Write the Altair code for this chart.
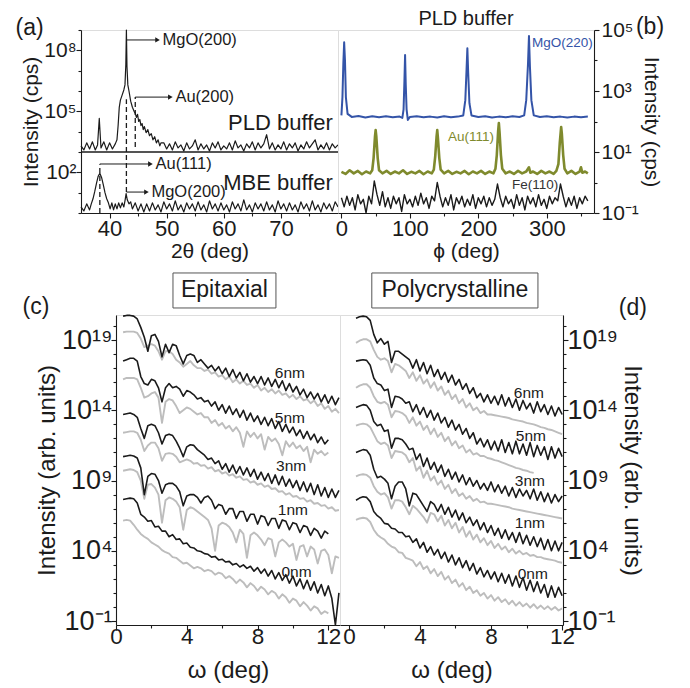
import altair as alt
import pandas as pd

FONT = "Liberation Sans"
INK = "#1b1b1b"
GRAY = "#bdbdbd"
BLUE = "#3454a8"
OLIVE = "#7f8a2d"

# ================= (a) 2-theta scans (log10 intensity) =================
pld_peak = [(35.0, 3.3), (35.5, 3.1), (36.0, 3.45), (36.5, 3.15), (37.0, 3.5), (37.5, 3.1),
            (37.9, 3.35), (38.2, 4.65), (38.5, 3.2), (39.0, 3.5), (39.5, 3.1), (40.0, 3.45),
            (40.5, 3.15), (41.0, 3.4), (41.3, 3.6), (41.5, 4.3), (41.7, 5.2), (41.9, 5.55),
            (42.2, 5.8), (42.5, 6.05), (42.7, 6.3), (42.85, 7.3), (42.95, 9.0), (43.05, 7.2),
            (43.2, 6.3), (43.4, 6.0), (43.7, 5.5), (44.0, 5.2), (44.3, 5.0), (44.5, 4.9),
            (44.7, 4.7), (44.9, 4.85), (45.1, 4.5), (45.3, 4.6), (45.5, 4.3), (45.7, 4.4),
            (45.9, 4.1), (46.1, 4.25), (46.4, 3.95), (46.7, 4.1), (47.0, 3.8), (47.3, 3.9),
            (47.6, 3.6), (47.9, 3.75), (48.2, 3.45), (48.5, 3.6), (48.8, 3.3), (49.0, 3.45)]
pld_noise_start = 49.5
pld_noise = [3.45, 3.15, 3.4, 3.1, 3.5, 3.2, 3.35, 3.05, 3.45, 3.15,
             3.3, 3.6, 3.1, 3.4, 3.15, 3.35, 3.05, 3.45, 3.2, 3.5,
             3.1, 3.3, 3.15, 3.45, 3.1, 3.55, 3.2, 3.35, 3.05, 3.4,
             3.2, 3.5, 3.1, 3.45, 3.2, 3.4, 3.85, 3.15, 3.45, 3.1,
             3.35, 3.15, 3.5, 3.1, 3.4, 3.2, 3.45, 3.05, 3.35, 3.15,
             3.5, 3.2, 3.4, 3.6, 3.1, 3.35, 3.15, 3.45, 3.1, 3.4,
             3.2, 3.35]
mbe_peak = [(35.0, 0.3), (35.5, 0.1), (36.0, 0.45), (36.5, 0.15), (36.8, 0.45), (37.1, 0.7),
            (37.4, 1.05), (37.7, 1.45), (38.0, 1.8), (38.3, 1.95), (38.6, 1.75), (38.9, 1.4),
            (39.2, 1.0), (39.5, 0.7), (39.8, 0.5), (40.1, 0.2), (40.4, 0.5), (40.7, 0.15),
            (41.0, 0.45), (41.3, 0.2), (41.6, 0.5), (41.9, 0.25), (42.2, 0.5), (42.5, 0.3),
            (42.7, 0.6), (42.9, 0.95), (43.1, 0.65), (43.4, 0.45), (43.7, 0.55), (44.0, 0.2),
            (44.5, 0.5), (45.0, 0.1), (45.5, 0.45)]
mbe_noise_start = 46.0
mbe_noise = [0.05, 0.45, 0.1, 0.5, 0.15, 0.4, 0.05, 0.55, 0.2, 0.45,
             0.1, 0.6, 0.15, 0.4, 0.05, 0.5, 0.2, 0.45, 0.1, 0.55,
             0.15, 0.4, 0.05, 0.6, 0.2, 0.45, 0.1, 0.5, 0.15, 0.4,
             0.05, 0.55, 0.2, 0.45, 0.1, 0.65, 0.15, 0.4, 0.05, 0.5,
             0.2, 0.45, 0.1, 0.55, 0.15, 0.4, 0.05, 0.6, 0.2, 0.45,
             0.1, 0.5, 0.15, 0.4, 0.05, 0.55, 0.2, 0.45, 0.1, 0.6,
             0.15, 0.4, 0.05, 0.5, 0.2, 0.45, 0.1, 0.55, 0.3]
# dense noise floor (segment, 2theta, lower, upper)
a_noise_band = [("p1", 35.0, 3.12, 3.42), ("p1", 41.2, 3.12, 3.42),
                ("p2", 48.8, 3.12, 3.42), ("p2", 80.0, 3.12, 3.42),
                ("m1", 35.0, 0.08, 0.38), ("m1", 36.6, 0.08, 0.38),
                ("m2", 39.9, 0.15, 0.45), ("m2", 42.5, 0.15, 0.45),
                ("m3", 43.6, 0.08, 0.42), ("m3", 80.0, 0.08, 0.42)]
a_dashes = [(38.3, 0.0, 2.4), (42.95, 1.03, 5.6), (44.5, 3.25, 5.7)]
a_arrows = [(42.97, 48.4, 8.51, "MgO(200)"), (44.5, 50.65, 5.7, "Au(200)"),
            (38.3, 47.16, 2.41, "Au(111)"), (42.97, 46.46, 1.03, "MgO(200)")]
a_separator = [3.0]
a_texts = [("PLD buffer", 79.1, 4.43), ("MBE buffer", 79.1, 1.47)]
a_panel = [("(a)", 26.0, 9.1)]

# ================= (b) phi scans (log10 intensity) =================
b_mgo = [(0, 2.2), (1.5, 2.8), (2.8, 3.9), (4, 4.6), (5.2, 4.0), (6.5, 2.8), (9, 2.25), (15, 2.15),
         (25, 2.18), (35, 2.13), (45, 2.17), (55, 2.14), (65, 2.17), (75, 2.14), (85, 2.16),
         (89, 2.12), (90.8, 2.4), (92, 3.3), (93, 4.18), (94, 3.2), (95.2, 2.4), (97, 2.05),
         (100, 2.15), (110, 2.17), (120, 2.14), (130, 2.16), (140, 2.13), (150, 2.17), (160, 2.14),
         (170, 2.16), (178, 2.2), (181, 2.7), (182.8, 3.7), (184, 4.4), (185.2, 3.6), (187, 2.6),
         (190, 2.2), (200, 2.15), (210, 2.17), (220, 2.13), (230, 2.16), (240, 2.14), (250, 2.17),
         (260, 2.15), (267, 2.2), (270, 2.7), (272.6, 3.9), (274, 4.8), (275.4, 3.8), (277.5, 2.7),
         (281, 2.2), (290, 2.15), (300, 2.17), (310, 2.14), (320, 2.16), (330, 2.13), (340, 2.16),
         (350, 2.14), (360, 2.16)]
b_au = [(0, 0.35), (6, 0.28), (12, 0.4), (18, 0.3), (24, 0.38), (30, 0.27), (36, 0.36), (42, 0.3),
        (45, 0.4), (47, 0.8), (49, 1.5), (50, 1.72), (51, 1.5), (53, 0.8), (55, 0.4), (60, 0.3),
        (66, 0.38), (72, 0.28), (78, 0.36), (84, 0.3), (90, 0.4), (96, 0.28), (102, 0.35), (108, 0.3),
        (114, 0.38), (120, 0.27), (126, 0.36), (132, 0.3), (135, 0.42), (137, 0.85), (139, 1.5),
        (140, 1.72), (141, 1.45), (143, 0.8), (145, 0.42), (150, 0.3), (156, 0.38), (162, 0.28),
        (168, 0.35), (174, 0.3), (180, 0.38), (186, 0.27), (192, 0.36), (198, 0.3), (204, 0.38),
        (210, 0.28), (216, 0.36), (222, 0.3), (225, 0.45), (227, 0.9), (229, 1.7), (230, 1.95),
        (231, 1.65), (233, 0.9), (235, 0.45), (240, 0.3), (246, 0.36), (252, 0.28), (258, 0.38),
        (264, 0.3), (270, 0.36), (274, 0.5), (276, 0.32), (280, 0.36), (286, 0.28), (292, 0.38),
        (298, 0.3), (304, 0.36), (310, 0.28), (314, 0.38), (317, 0.6), (319, 1.3), (321, 1.82),
        (322, 1.6), (324, 0.9), (326, 0.45), (330, 0.3), (336, 0.38), (342, 0.28), (348, 0.36),
        (350, 0.5), (352, 0.32), (356, 0.36), (360, 0.3)]
b_fe_step = 4
b_fe = [-0.5, -0.8, -0.45, -0.75, -0.5, -0.9, -0.4, -0.7, -0.55, -1.0,
        -0.45, -0.7, 0.05, -0.4, -0.75, -0.3, -0.8, -0.5, -0.85, -0.45,
        -0.7, -0.5, -0.95, -0.4, -0.7, -0.55, -0.8, -0.45, -0.75, -0.35,
        -0.7, -0.5, -0.85, -0.45, -0.6, 0.0, -0.45, -0.8, -0.5, -0.75,
        -0.4, -0.9, -0.5, -0.7, -0.45, -0.8, -0.55, -0.75, -0.4, -0.85,
        -0.5, -0.7, -0.45, -0.8, -0.5, -0.75, -0.55, -0.05, -0.5, -0.8,
        -0.45, -0.7, -0.55, -0.85, -0.4, -0.75, -0.5, -0.9, -0.45, -0.7,
        -0.5, -0.8, -0.4, -0.75, -0.55, -0.85, -0.45, -0.7, -0.5, -0.6,
        -0.05, -0.45, -0.8, -0.5, -0.75, -0.45, -0.85, -0.5, -0.7, -0.45,
        -0.6]
b_fe_band = [("f", 0, -0.82, -0.45), ("f", 360, -0.82, -0.45)]
b_texts = [("MgO(220)", 278.5, 4.57, BLUE), ("Au(111)", 155.7, 1.49, OLIVE), ("Fe(110)", 249.2, -0.08, "#333333")]
b_panel = [("(b)", 450.8, 5.1)]
b_heading = [("PLD buffer", 182.0, 5.16)]

# ================= (c),(d) reflectivity (log10 intensity), omega = 0.4 + 0.2*i =================
OMEGA0, OMEGA_STEP = 0.4, 0.2
epi_data = {
    "6nm": [20.7, 20.75, 20.75, 20.7, 20.5, 19.9, 19.2, 18.2, 19.3, 19.4,
            18.9, 17.8, 18.7, 18.1, 18.7, 18.6, 17.9, 17.3, 17.9, 18.0,
            17.9, 17.4, 17.6, 17.3, 17.0, 17.2, 16.8, 17.1, 16.6, 17.0,
            16.4, 16.9, 16.3, 16.7, 16.1, 16.6, 16.0, 16.4, 15.9, 16.4,
            15.8, 16.3, 15.7, 16.2, 15.6, 16.1, 15.4, 15.9, 15.3, 15.7,
            15.1, 15.5, 14.9, 15.3, 14.8, 15.2, 14.6, 15.1, 14.5, 15.0,
            14.4, 14.9],
    "5nm": [17.5, 17.6, 17.7, 17.7, 17.5, 16.4, 15.9, 15.8, 16.2, 16.1,
            15.6, 14.6, 15.6, 15.9, 15.6, 15.7, 15.5, 15.0, 15.4, 15.3,
            15.1, 14.8, 14.9, 14.6, 14.7, 14.3, 14.6, 14.0, 14.4, 13.8,
            14.3, 13.7, 14.1, 13.5, 14.0, 13.3, 13.8, 13.2, 13.6, 13.0,
            13.5, 12.9, 13.4, 12.7, 13.2, 12.5, 13.0, 12.4, 12.8, 12.2,
            12.6, 12.0, 12.5, 11.9, 12.3, 11.7, 12.1, 11.6, 11.9],
    "3nm": [13.7, 13.75, 13.8, 13.7, 13.5, 12.7, 12.0, 12.9, 13.0, 12.9,
            12.4, 11.6, 12.2, 12.3, 12.2, 11.8, 11.3, 10.7, 11.4, 11.55,
            11.5, 11.2, 11.0, 10.8, 10.5, 10.6, 10.2, 10.4, 9.8, 10.2,
            9.6, 10.1, 9.5, 10.0, 9.4, 9.9, 9.3, 9.8, 9.1, 9.6,
            9.0, 9.5, 8.8, 9.4, 8.7, 9.3, 8.6, 9.1, 8.5, 9.0,
            8.3, 8.9, 8.2, 8.8, 8.0, 8.7, 7.9, 8.5, 7.8, 8.4,
            7.8, 8.3],
    "1nm": [10.7, 10.75, 10.8, 10.75, 10.6, 9.9, 8.0, 9.3, 9.5, 9.45,
            9.0, 8.1, 8.7, 8.8, 8.8, 8.6, 8.2, 7.2, 7.9, 8.0,
            8.0, 7.8, 7.4, 7.8, 7.9, 7.6, 7.0, 7.3, 7.2, 6.6,
            7.0, 7.0, 6.3, 6.8, 6.8, 6.1, 6.6, 6.6, 5.9, 6.5,
            6.4, 5.8, 6.3, 6.3, 5.6, 6.2, 6.1, 5.5, 6.0, 5.9,
            5.3, 5.8, 5.7, 5.1, 5.6, 5.4, 4.9, 5.4, 5.2],
    "0nm": [7.65, 7.7, 7.75, 7.7, 7.4, 6.6, 6.4, 6.1, 6.15, 5.7,
            5.75, 5.4, 5.4, 5.0, 5.15, 4.8, 4.85, 4.5, 4.55, 4.25,
            4.2, 4.0, 3.95, 3.8, 3.75, 3.55, 3.6, 3.35, 3.4, 3.2,
            3.25, 3.0, 3.1, 2.85, 3.0, 2.75, 2.9, 2.55, 2.8, 2.4,
            2.7, 2.2, 2.6, 2.0, 2.45, 1.9, 2.3, 1.7, 2.2, 1.5,
            2.0, 1.3, 1.9, 1.2, 1.8, 1.0, 1.6, 0.8, 1.5, 0.6,
            -1.28, 1.0],
}
epi_fit = {
    "6nm": [19.55, 19.6, 19.6, 19.6, 19.5, 19.1, 18.5, 18.6, 18.7, 18.6,
            18.2, 17.6, 18.2, 18.2, 18.0, 17.6, 17.4, 17.1, 17.3, 17.5,
            17.2, 17.0, 17.0, 16.8, 16.9, 16.6, 16.7, 16.4, 16.5, 16.2,
            16.4, 16.0, 16.2, 15.9, 16.1, 15.8, 15.9, 15.6, 15.8, 15.4,
            15.6, 15.3, 15.5, 15.2, 15.4, 15.1, 15.2, 14.9, 15.1, 14.8,
            15.0, 14.7, 14.8, 14.5, 14.7, 14.3, 14.5, 14.1, 14.3, 13.9,
            14.1, 13.8],
    "5nm": [16.2, 16.3, 16.3, 16.3, 16.2, 15.6, 14.9, 15.0, 15.2, 15.3,
            14.9, 13.1, 14.6, 14.8, 14.7, 14.3, 13.8, 14.0, 14.2, 14.1,
            13.9, 13.7, 13.8, 13.5, 13.5, 13.1, 13.3, 12.9, 13.1, 12.7,
            12.9, 12.5, 12.8, 12.4, 11.4, 12.5, 12.1, 12.4, 12.0, 12.3,
            11.2, 12.1, 11.8, 12.0, 11.6, 10.8, 11.8, 11.4, 11.7, 11.3,
            11.5, 11.1, 11.4, 10.3, 11.2, 10.9, 11.1, 10.8, 11.0],
    "3nm": [12.4, 12.45, 12.5, 12.5, 12.4, 11.9, 11.1, 11.5, 11.7, 11.7,
            11.3, 10.4, 10.9, 10.95, 10.9, 10.7, 10.3, 10.4, 10.5, 10.4,
            10.2, 10.25, 10.05, 10.1, 9.85, 9.95, 9.65, 9.75, 9.5, 9.6,
            9.35, 9.45, 9.2, 9.3, 9.05, 9.1, 8.85, 8.95, 8.7, 8.8,
            8.55, 8.65, 8.4, 8.45, 8.2, 8.25, 8.0, 8.1, 7.85, 7.9,
            7.7, 7.75, 7.5, 7.6, 7.35, 7.4, 7.2, 7.25, 7.0, 7.1,
            6.85, 6.9],
    "1nm": [9.7, 9.75, 9.8, 9.75, 9.6, 9.0, 7.7, 8.7, 8.75, 8.5,
            8.0, 6.0, 7.6, 7.8, 7.7, 7.5, 7.1, 5.5, 6.9, 7.1,
            7.0, 6.8, 6.6, 6.4, 6.2, 5.6, 4.0, 5.8, 6.0, 5.9,
            5.7, 5.3, 4.6, 5.5, 5.2, 3.5, 5.1, 5.3, 5.1, 4.8,
            4.4, 4.9, 4.8, 3.6, 4.6, 4.8, 4.6, 4.3, 4.5, 3.35,
            4.3, 4.4, 3.6, 4.3, 4.1, 3.1, 4.0, 4.1, 3.7, 2.4,
            3.6, 3.5],
    "0nm": [6.15, 6.2, 6.15, 5.85, 5.5, 5.2, 5.0, 4.85, 4.6, 4.45,
            4.3, 4.05, 3.9, 3.8, 3.55, 3.5, 3.3, 3.1, 3.15, 2.95,
            2.75, 2.85, 2.75, 2.55, 2.65, 2.55, 2.3, 2.45, 2.35, 2.05,
            2.2, 2.0, 1.7, 1.95, 1.75, 1.4, 1.7, 1.5, 1.15, 1.45,
            1.25, 0.9, 1.15, 1.0, 0.6, 0.9, 0.7, 0.3, 0.6, 0.45,
            0.05, 0.35, 0.1, -0.25, 0.05, -0.1, -0.5, -0.3, -0.45],
}
poly_data = {
    "6nm": [20.55, 20.65, 20.7, 20.65, 20.4, 19.4, 18.8, 19.1, 18.7, 18.9,
            17.4, 18.2, 18.2, 18.0, 17.8, 17.6, 17.0, 17.6, 16.8, 17.4,
            16.6, 17.2, 16.4, 16.9, 16.2, 16.7, 16.0, 16.5, 15.8, 16.2,
            15.5, 15.9, 15.2, 15.6, 14.9, 15.2, 14.6, 15.1, 14.5, 15.0,
            14.4, 15.1, 14.3, 14.9, 14.2, 14.8, 14.0, 14.7, 14.1, 14.5,
            13.8, 14.6, 13.9, 14.4, 13.7, 14.3, 13.6, 14.2, 13.7],
    "5nm": [17.5, 17.55, 17.6, 17.55, 17.2, 16.3, 15.9, 15.8, 15.4, 15.5,
            14.2, 15.0, 14.95, 14.8, 14.5, 14.6, 13.9, 14.4, 13.7, 14.2,
            13.5, 14.0, 13.3, 13.8, 13.1, 13.5, 12.8, 13.3, 12.6, 13.0,
            12.3, 12.7, 12.0, 12.4, 11.6, 12.0, 11.4, 11.9, 11.2, 11.8,
            11.1, 11.9, 11.0, 11.7, 10.9, 11.8, 10.9, 11.6, 10.8, 11.7,
            10.7, 11.5, 10.8, 11.4, 10.5, 11.4, 10.6, 11.3, 10.7],
    "3nm": [14.2, 14.3, 14.4, 14.35, 14.0, 13.2, 12.9, 13.0, 12.5, 12.6,
            11.3, 12.0, 12.0, 11.9, 11.6, 11.2, 11.3, 10.5, 10.9, 10.0,
            10.6, 9.8, 10.3, 9.6, 10.1, 9.3, 9.8, 9.1, 9.6, 8.9,
            9.4, 8.7, 9.2, 8.6, 9.0, 8.4, 8.8, 8.3, 8.9, 8.2,
            8.7, 8.1, 8.6, 7.9, 8.5, 7.8, 8.4, 7.9, 8.3, 7.7,
            8.4, 7.6, 8.2, 7.5, 8.1, 7.4, 8.0, 7.5, 7.9],
    "1nm": [11.0, 11.1, 11.2, 11.15, 10.8, 9.8, 9.2, 9.3, 9.1, 8.8,
            7.7, 8.6, 8.9, 8.9, 8.4, 7.2, 8.1, 8.0, 7.6, 7.2,
            6.8, 7.5, 7.3, 6.8, 7.3, 6.6, 7.1, 6.4, 6.9, 6.2,
            6.7, 6.0, 6.4, 5.8, 6.2, 5.5, 6.0, 5.3, 5.8, 5.1,
            5.6, 4.9, 5.5, 4.8, 5.3, 4.6, 5.3, 4.5, 5.1, 4.4,
            5.0, 4.3, 4.9, 4.1, 4.8, 4.0, 4.7, 4.0, 4.6],
    "0nm": [7.6, 7.75, 7.85, 7.8, 7.5, 6.8, 6.5, 6.3, 5.95, 5.9,
            5.6, 5.55, 5.3, 5.3, 5.0, 5.05, 4.6, 4.85, 4.2, 4.6,
            3.9, 4.3, 3.7, 4.1, 3.45, 3.9, 3.2, 3.7, 3.0, 3.5,
            2.8, 3.3, 2.6, 3.1, 2.35, 2.8, 2.15, 2.6, 2.0, 2.5,
            1.8, 2.4, 1.7, 2.3, 1.5, 2.2, 1.4, 2.1, 1.2, 1.9,
            1.1, 1.8, 1.0, 1.6, 0.7, 1.5, 0.7, 1.4, 0.8],
}
poly_fit = {
    "6nm": [18.8, 18.95, 19.05, 19.05, 18.9, 18.3, 17.8, 17.6, 17.7, 17.5,
            16.7, 17.3, 17.2, 17.0, 16.8, 16.3, 16.7, 16.1, 16.5, 15.9,
            16.2, 15.6, 16.0, 15.4, 15.7, 15.1, 15.4, 14.8, 15.1, 14.5,
            14.8, 14.2, 14.5, 14.0, 14.2, 13.8, 13.95, 13.7, 13.7, 13.65,
            13.6, 13.55, 13.5, 13.45, 13.35, 13.3, 13.25, 13.2, 13.1, 13.05,
            13.0, 12.9, 12.8, 12.75, 12.65, 12.6, 12.5, 12.4, 12.3],
    "5nm": [15.6, 15.75, 15.85, 15.85, 15.6, 15.0, 14.6, 14.5, 14.6, 14.4,
            13.5, 13.95, 13.9, 13.8, 13.6, 13.1, 13.5, 12.9, 13.2, 12.6,
            12.9, 12.3, 12.7, 12.1, 12.4, 11.8, 12.1, 11.5, 11.8, 11.3,
            11.5, 11.0, 11.2, 10.85, 10.95, 10.75, 10.75, 10.6, 10.55, 10.45,
            10.4, 10.3, 10.2, 10.1, 10.0, 9.9, 9.85, 9.75, 9.7, 9.6,
            9.55],
    "3nm": [12.9, 13.0, 13.05, 13.0, 12.8, 12.3, 11.8, 11.6, 11.7, 11.5,
            10.6, 11.1, 11.05, 11.0, 10.8, 10.3, 10.6, 9.7, 10.0, 9.2,
            9.7, 9.0, 9.3, 8.7, 9.0, 8.4, 8.7, 8.1, 8.4, 7.9,
            8.1, 7.7, 7.9, 7.55, 7.7, 7.45, 7.5, 7.35, 7.35, 7.3,
            7.25, 7.2, 7.15, 7.1, 7.0, 6.95, 6.9, 6.85, 6.8, 6.75,
            6.7, 6.65, 6.6, 6.55, 6.5, 6.45, 6.4, 6.35, 6.3],
    "1nm": [9.3, 9.4, 9.45, 9.4, 9.2, 8.6, 8.2, 8.0, 8.1, 7.8,
            7.0, 7.6, 7.6, 7.5, 7.1, 6.6, 7.2, 7.0, 6.7, 6.4,
            6.0, 6.7, 6.6, 6.1, 6.5, 5.8, 6.2, 5.6, 6.0, 5.3,
            5.7, 5.0, 5.4, 4.8, 5.15, 4.6, 4.9, 4.4, 4.7, 4.2,
            4.5, 4.1, 4.3, 3.9, 4.15, 3.8, 4.0, 3.75, 3.85, 3.65,
            3.7, 3.55, 3.55, 3.45, 3.4, 3.35, 3.3, 3.2, 3.15],
    "0nm": [6.2, 6.3, 6.35, 6.3, 6.05, 5.5, 5.15, 4.95, 4.8, 4.5,
            4.3, 4.2, 3.9, 3.85, 3.5, 3.4, 3.3, 2.9, 3.2, 2.7,
            2.9, 2.4, 2.7, 2.2, 2.5, 1.95, 2.2, 1.7, 1.95, 1.45,
            1.7, 1.2, 1.45, 1.0, 1.2, 0.8, 1.0, 0.6, 0.85, 0.45,
            0.7, 0.35, 0.55, 0.2, 0.45, 0.1, 0.35, 0.05, 0.25, -0.05,
            0.2, -0.1, 0.1, -0.15, 0.05, -0.2, 0.0, -0.25, -0.1],
}
epi_labels = [("6nm", 9.83, 16.65), ("5nm", 9.83, 13.45), ("3nm", 9.9, 10.0), ("1nm", 10.0, 6.9), ("0nm", 10.2, 2.5)]
poly_labels = [("6nm", 10.13, 15.2), ("5nm", 10.24, 12.2), ("3nm", 10.19, 8.96), ("1nm", 10.19, 6.0), ("0nm", 10.35, 2.35)]
epi_box = ("Epitaxial", 3.22, 9.04, 21.28, 23.77)
poly_box = ("Polycrystalline", 1.29, 10.64, 21.28, 23.77)
epi_panel = [("(c)", -4.52, 21.35)]
poly_panel = [("(d)", 15.98, 21.28)]

# ================= helpers =================
SUP = {"-": "\u207b", "0": "\u2070", "1": "\u00b9", "2": "\u00b2", "3": "\u00b3", "4": "\u2074",
       "5": "\u2075", "6": "\u2076", "7": "\u2077", "8": "\u2078", "9": "\u2079"}


def pow10(e):
    return "10" + "".join(SUP[c] for c in str(e))


def pow_expr(majors):
    s = "''"
    for e in reversed(majors):
        s = f"datum.value == {e} ? '{pow10(e)}' : " + s
    return s


def num_expr(majors):
    return f"indexof({list(majors)}, datum.value) >= 0 ? datum.label : ''"


def tick_cond(majors, big, small):
    return {"condition": {"test": f"indexof({list(majors)}, datum.value) >= 0", "value": big}, "value": small}


AX = dict(labelFont=FONT, titleFont=FONT, labelColor=INK, titleColor=INK, domainColor=INK,
          tickColor=INK, titleFontWeight="normal", grid=False, labelOverlap=False,
          labelFlush=False, domainWidth=1.1, tickWidth=1.1)


def pts_df(points):
    return pd.DataFrame(points, columns=["x", "y"])


def grid_df(start, step, vals):
    return pd.DataFrame({"x": [round(start + step * i, 3) for i in range(len(vals))], "y": vals})


def band_df(items):
    return pd.DataFrame(items, columns=["seg", "x", "y", "y2"])


def curves_df(curves):
    rows = []
    for name, vals in curves.items():
        for i, v in enumerate(vals):
            rows.append({"x": round(OMEGA0 + OMEGA_STEP * i, 2), "y": v, "curve": name})
    return pd.DataFrame(rows)


def text_df(items):
    return pd.DataFrame(items, columns=["t", "x", "y"])


class Enc:
    """x / y encodings that share one scale and one axis definition in every layer."""

    def __init__(self, sx, axx, sy, axy):
        self.sx, self.axx, self.sy, self.axy = sx, axx, sy, axy

    def x(self, f="x"):
        return alt.X(f"{f}:Q", scale=self.sx, axis=self.axx)

    def y(self, f="y"):
        return alt.Y(f"{f}:Q", scale=self.sy, axis=self.axy)


# ================= panel (a) =================
EA = Enc(alt.Scale(domain=[35, 80], nice=False, zero=False),
         alt.Axis(values=[40, 45, 50, 55, 60, 65, 70, 75], labelExpr=num_expr([40, 50, 60, 70]),
                  tickSize=tick_cond([40, 50, 60, 70], 5, 3), title="2θ (deg)", labelFontSize=22,
                  titleFontSize=21, labelPadding=0, titlePadding=1, **AX),
         alt.Scale(domain=[0, 9], nice=False, zero=False),
         alt.Axis(values=list(range(0, 10)), labelExpr=pow_expr([2, 5, 8]),
                  tickSize=tick_cond([2, 5, 8], 5, 3), title="Intensity (cps)", labelFontSize=21,
                  titleFontSize=21, labelPadding=0, titlePadding=2, **AX))

pld_df = pd.concat([pts_df(pld_peak), grid_df(pld_noise_start, 0.5, pld_noise)], ignore_index=True)
mbe_df = pd.concat([pts_df(mbe_peak), grid_df(mbe_noise_start, 0.5, mbe_noise)], ignore_index=True)
dash_df = pd.DataFrame(a_dashes, columns=["x", "y", "y2"])
arrow_df = pd.DataFrame(a_arrows, columns=["x", "x2", "y", "t"])

a_layers = [
    alt.Chart(band_df(a_noise_band)).mark_area(color=INK, opacity=0.55).encode(
        x=EA.x(), y=EA.y(), y2="y2:Q", detail="seg:N", order="x:Q"),
    alt.Chart(pld_df).mark_line(color=INK, strokeWidth=1.2, strokeJoin="round").encode(x=EA.x(), y=EA.y(), order="x:Q"),
    alt.Chart(mbe_df).mark_line(color=INK, strokeWidth=1.2, strokeJoin="round").encode(x=EA.x(), y=EA.y(), order="x:Q"),
    alt.Chart(pd.DataFrame({"y": a_separator})).mark_rule(color=INK, strokeWidth=1.3).encode(y=EA.y()),
    alt.Chart(dash_df).mark_rule(color=INK, strokeWidth=1.3, strokeDash=[5, 3]).encode(x=EA.x(), y=EA.y(), y2="y2:Q"),
    alt.Chart(arrow_df).mark_rule(color=INK, strokeWidth=1).encode(x=EA.x(), x2="x2:Q", y=EA.y()),
    alt.Chart(arrow_df).mark_point(shape="triangle-right", filled=True, size=28, color=INK, opacity=1).encode(
        x=EA.x("x2"), y=EA.y()),
    alt.Chart(arrow_df).mark_text(align="left", baseline="middle", dx=5, font=FONT, fontSize=16.5, color=INK).encode(
        x=EA.x("x2"), y=EA.y(), text="t:N"),
    alt.Chart(text_df(a_texts)).mark_text(align="right", baseline="middle", font=FONT, fontSize=22, color=INK).encode(
        x=EA.x(), y=EA.y(), text="t:N"),
    alt.Chart(text_df(a_panel)).mark_text(align="center", baseline="middle", font=FONT, fontSize=23, color=INK).encode(
        x=EA.x(), y=EA.y(), text="t:N"),
]
panel_a = alt.layer(*a_layers).properties(width=257, height=183)

# ================= panel (b) =================
EB = Enc(alt.Scale(domain=[-5, 369], nice=False, zero=False),
         alt.Axis(values=[0, 50, 100, 150, 200, 250, 300, 350], labelExpr=num_expr([0, 100, 200, 300]),
                  tickSize=tick_cond([0, 100, 200, 300], 5, 3), title="ϕ (deg)", labelFontSize=22,
                  titleFontSize=21, labelPadding=0, titlePadding=1, **AX),
         alt.Scale(domain=[-1, 5], nice=False, zero=False),
         alt.Axis(orient="right", values=list(range(-1, 6)), labelExpr=pow_expr([-1, 1, 3, 5]),
                  tickSize=tick_cond([-1, 1, 3, 5], 5, 3), title="Intensity (cps)", labelFontSize=21,
                  titleFontSize=21, labelPadding=2, titlePadding=2, **AX))

b_text_df = pd.DataFrame(b_texts, columns=["t", "x", "y", "c"])
b_layers = [
    alt.Chart(band_df(b_fe_band)).mark_area(color=INK, opacity=0.55).encode(
        x=EB.x(), y=EB.y(), y2="y2:Q", detail="seg:N", order="x:Q"),
    alt.Chart(grid_df(0, b_fe_step, b_fe)).mark_line(color=INK, strokeWidth=1.4, strokeJoin="round").encode(
        x=EB.x(), y=EB.y(), order="x:Q"),
    alt.Chart(pts_df(b_au)).mark_line(color=OLIVE, strokeWidth=2.6, strokeJoin="round").encode(x=EB.x(), y=EB.y(), order="x:Q"),
    alt.Chart(pts_df(b_mgo)).mark_line(color=BLUE, strokeWidth=2.0, strokeJoin="round").encode(x=EB.x(), y=EB.y(), order="x:Q"),
    alt.Chart(b_text_df).mark_text(align="left", baseline="middle", font=FONT, fontSize=13.5).encode(
        x=EB.x(), y=EB.y(), text="t:N", color=alt.Color("c:N", scale=None)),
    alt.Chart(text_df(b_panel)).mark_text(align="center", baseline="middle", font=FONT, fontSize=23, color=INK).encode(
        x=EB.x(), y=EB.y(), text="t:N"),
    alt.Chart(text_df(b_heading)).mark_text(align="center", baseline="alphabetic", font=FONT, fontSize=20, color=INK).encode(
        x=EB.x(), y=EB.y(), text="t:N"),
]
panel_b = alt.layer(*b_layers).properties(width=256, height=183)


# ================= panels (c), (d) =================
def refl_panel(data, fit, labels, box, panel, xdom, width, orient):
    E = Enc(alt.Scale(domain=xdom, nice=False, zero=False),
            alt.Axis(values=[0, 2, 4, 6, 8, 10, 12], labelExpr=num_expr([0, 4, 8, 12]),
                     tickSize=tick_cond([0, 4, 8, 12], 5, 3), title="ω (deg)", labelFontSize=22.5,
                     titleFontSize=24, labelPadding=-5, titlePadding=11, **AX),
            alt.Scale(domain=[-1.28, 20.78], nice=False, zero=False),
            alt.Axis(orient=orient, values=list(range(-1, 21)), labelExpr=pow_expr([-1, 4, 9, 14, 19]),
                     tickSize=tick_cond([-1, 4, 9, 14, 19], 5, 3), title="Intensity (arb. units)",
                     labelFontSize=27, titleFontSize=24, labelPadding=-1, titlePadding=2, **AX))
    bdf = pd.DataFrame([box], columns=["t", "x", "x2", "y", "y2"])
    bdf["xm"] = (bdf["x"] + bdf["x2"]) / 2
    bdf["ym"] = (bdf["y"] + bdf["y2"]) / 2
    layers = [
        alt.Chart(curves_df(fit)).mark_line(color=GRAY, strokeWidth=1.9, strokeJoin="round").encode(
            x=E.x(), y=E.y(), detail="curve:N", order="x:Q"),
        alt.Chart(curves_df(data)).mark_line(color=INK, strokeWidth=1.6, strokeJoin="round").encode(
            x=E.x(), y=E.y(), detail="curve:N", order="x:Q"),
        alt.Chart(text_df(labels)).mark_text(align="center", baseline="middle", font=FONT, fontSize=15.5, color=INK).encode(
            x=E.x(), y=E.y(), text="t:N"),
        alt.Chart(bdf).mark_rect(fill="white", stroke="#555555", strokeWidth=1).encode(
            x=E.x(), x2="x2:Q", y=E.y(), y2="y2:Q"),
        alt.Chart(bdf).mark_text(align="center", baseline="middle", font=FONT, fontSize=23, color=INK).encode(
            x=E.x("xm"), y=E.y("ym"), text="t:N"),
        alt.Chart(text_df(panel)).mark_text(align="center", baseline="middle", font=FONT, fontSize=23, color=INK).encode(
            x=E.x(), y=E.y(), text="t:N"),
    ]
    return alt.layer(*layers).properties(width=width, height=310)


panel_c = refl_panel(epi_data, epi_fit, epi_labels, epi_box, epi_panel, [0, 12.66], 224, "left")
panel_d = refl_panel(poly_data, poly_fit, poly_labels, poly_box, poly_panel, [-0.5, 12.05], 223, "right")

# invisible strip that shifts panel (c) 35 px right of panel (a)
spacer = alt.Chart(pd.DataFrame({"s": [0]})).mark_point(opacity=0).encode(
    x=alt.X("s:Q", axis=None), y=alt.Y("s:Q", axis=None)).properties(
    width=35, height=310, view=alt.ViewBackground(stroke="transparent"))

top = alt.hconcat(panel_a, panel_b, spacing=0, bounds="flush")
bottom = alt.hconcat(spacer, panel_c, panel_d, spacing=0, bounds="flush")
chart = alt.vconcat(top, bottom, spacing=9).properties(
    padding={"left": 7, "top": 0, "right": 5, "bottom": 2}, background="white"
).configure_view(stroke=INK, strokeWidth=1.2).configure(font=FONT)

chart.save("out.html", embed_options={"renderer": "svg", "actions": False})
